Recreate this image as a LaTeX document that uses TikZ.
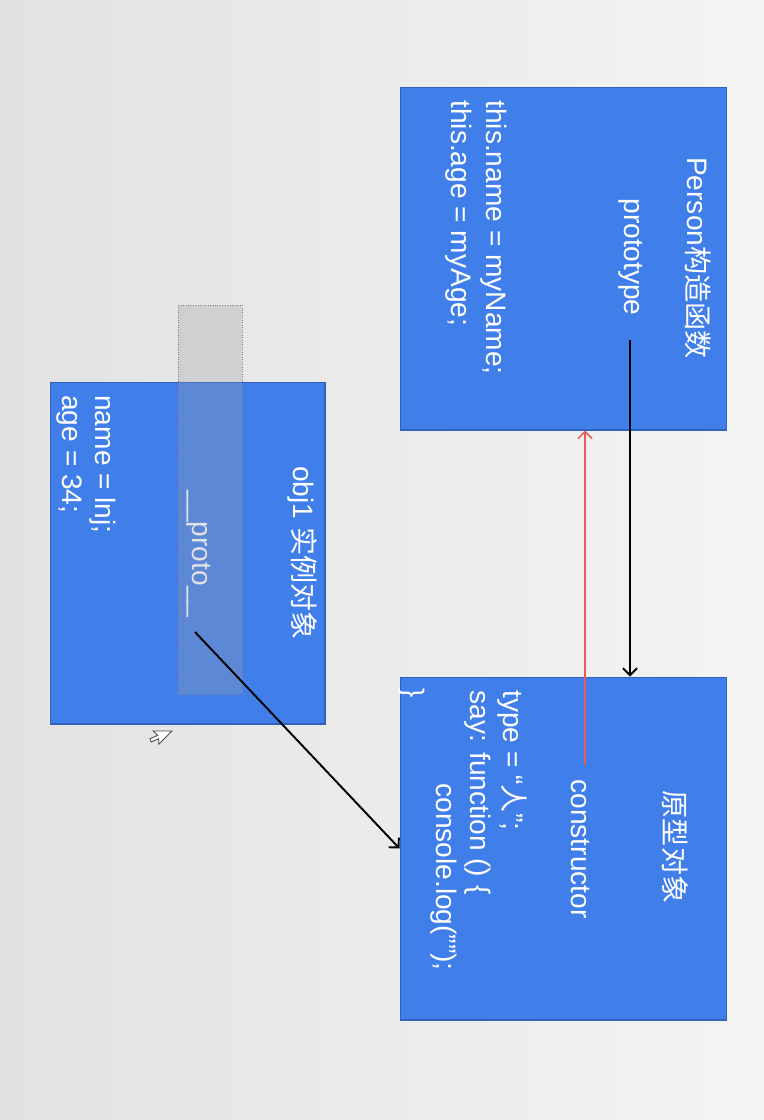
\documentclass[tikz,border=0pt]{standalone}
\usepackage{fontspec}
\setmainfont{Liberation Sans}
\newfontfamily\cjk{Noto Sans CJK SC}
\usetikzlibrary{arrows.meta}
\definecolor{boxblue}{RGB}{64,127,234}
\definecolor{boxedge}{RGB}{48,98,190}
\definecolor{redline}{RGB}{232,92,82}
\definecolor{bgleft}{RGB}{226,226,226}
\definecolor{bgright}{RGB}{244,244,244}
\definecolor{shadegray}{RGB}{160,160,168}

\begin{document}
\begin{tikzpicture}[x=0.02cm,y=-0.02cm,
  box/.style={draw=boxedge,line width=0.6pt,fill=boxblue},
  txt/.style={text=white,rotate=-90,inner sep=0pt,font=\fontsize{16}{18}\selectfont},
  link/.style={>={Straight Barb[length=4pt,width=8pt]},->,line width=1.1pt}]
\shade[left color=bgleft,right color=bgright] (0,0) rectangle (764,1120);
% the three boxes
\node[box,minimum width=6.54cm,minimum height=6.86cm] (person) at (563.5,258.5) {};
\node[box,minimum width=6.54cm,minimum height=6.86cm] (proto) at (563.5,848.5) {};
\node[box,minimum width=5.5cm,minimum height=6.84cm] (obj) at (187.5,553) {};
% constructor
\node[txt] (ptitle) at (698,258) {Person{\cjk 构造函数}};
\node[txt] (ptype) at (631,257) {prototype};
\node[txt,anchor=base west] (pname) at (486,100) {this.name = myName;};
\node[txt,anchor=base west] (page) at (451,100) {this.age = myAge;};
% prototype object
\node[txt] (otitle) at (675,847) {\cjk 原型对象};
\node[txt] (ctor) at (580,849) {constructor};
\node[txt,anchor=base west] (otype) at (503,690) {type = “{\cjk 人}”;};
\node[txt,anchor=base west] (osay) at (470,690) {say: function () \{};
\node[txt,anchor=base west] (olog) at (436,783) {console.log("");};
\node[txt,anchor=base west] (oend) at (404,688) {\}};
% instance
\node[txt] (ititle) at (302,553) {obj1 {\cjk 实例对象}};
\node[txt] (iproto) at (199,554) {\_\_proto\_\_};
\node[txt,anchor=base west] (iname) at (95,395) {name = lnj;};
\node[txt,anchor=base west] (iage) at (62,395) {age = 34;};
\draw[gray,densely dotted,line width=0.4pt,fill=shadegray,fill opacity=0.3] (178,305) rectangle (242,694);
% arrows
\coordinate (ptail) at (630,340);
\coordinate (ctail) at (585,765);
\coordinate (itail) at (195,632);
\draw[link] (ptail) -- (ptail |- proto.north);
\draw[link,redline,line width=0.9pt] (ctail) -- (ctail |- person.south);
\draw[link] (itail) -- (proto.west);
% mouse pointer
\draw[black!70,fill=white,line width=0.5pt] (172,731) -- (153.3,731) -- (157.7,735.4) -- (150,738.7) -- (151.1,742) -- (158.8,738.7) -- (158.8,744.2) -- cycle;
\end{tikzpicture}
\end{document}
